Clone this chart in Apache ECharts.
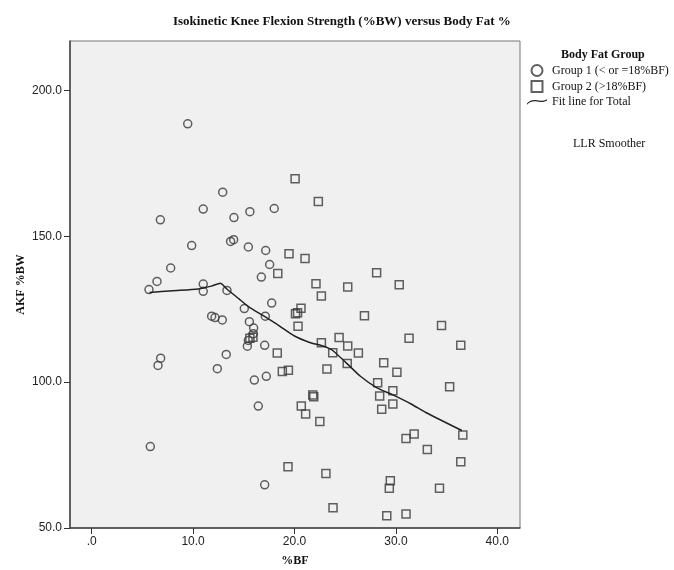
<!DOCTYPE html>
<html>
<head>
<meta charset="utf-8">
<script src="https://cdn.jsdelivr.net/npm/echarts@6.0.0/dist/echarts.min.js"></script>
<style>
  html, body { margin: 0; padding: 0; background: #fff; }
  #chart { width: 674px; height: 570px; }
</style>
</head>
<body>
<div id="chart"></div>
<script>
  // Group 1 (< or =18%BF) - circles
  const group1BF = [9.47, 12.92, 11.0, 14.03, 15.6, 18.0, 6.77, 9.86, 13.7, 14.0, 15.45, 17.16, 17.55, 16.73,
    7.79, 6.44, 5.65, 11.0, 11.0, 13.34, 17.75, 15.05, 17.12, 11.83, 12.16, 12.88, 15.55, 15.97, 15.94,
    15.45, 15.35, 17.06, 6.8, 6.54, 13.27, 12.39, 16.04, 17.22, 16.43, 5.78, 17.06];
  const group1AKF = [188.5, 165.1, 159.3, 156.4, 158.4, 159.5, 155.6, 146.8, 148.2, 148.8, 146.3, 145.1, 140.3, 136.0,
    139.1, 134.5, 131.7, 133.6, 131.1, 131.4, 127.1, 125.2, 122.6, 122.6, 122.1, 121.3, 120.7, 118.5, 116.6,
    114.3, 112.3, 112.6, 108.2, 105.7, 109.5, 104.6, 100.7, 102.0, 91.8, 77.9, 64.8];

  // Group 2 (>18%BF) - squares
  const group2BF = [20.06, 22.35, 19.46, 21.04, 18.35, 28.1, 22.12, 25.25, 30.33, 22.65, 20.64, 20.1, 20.3, 26.9,
    20.35, 34.5, 31.3, 24.4, 22.65, 25.25, 36.4, 23.77, 26.3, 18.3, 25.2, 28.8, 18.8, 19.4, 23.2, 30.1,
    28.2, 35.3, 29.7, 28.4, 29.7, 28.6, 21.8, 21.9, 20.67, 21.1, 22.5, 31.8, 31.0, 36.6, 33.1, 36.4,
    19.36, 23.1, 29.45, 29.35, 34.3, 23.8, 29.1, 31.0, 15.6, 15.9];
  const group2AKF = [169.7, 161.9, 144.0, 142.4, 137.2, 137.5, 133.7, 132.6, 133.4, 129.5, 125.3, 123.4, 123.8, 122.7,
    119.1, 119.4, 115.0, 115.3, 113.5, 112.4, 112.6, 110.1, 110.0, 110.0, 106.4, 106.6, 103.6, 104.1, 104.5, 103.4,
    99.8, 98.4, 97.0, 95.2, 92.5, 90.7, 95.6, 95.0, 91.8, 89.1, 86.5, 82.2, 80.7, 81.9, 76.9, 72.7,
    71.0, 68.7, 66.2, 63.6, 63.6, 56.9, 54.2, 54.8, 115.0, 115.4];

  // LLR smoother fit line for total
  const fitBF = [5.7, 8.0, 10.5, 11.8, 12.7, 13.3, 14.5, 15.5, 17.0, 18.5, 20.0, 21.5, 22.8, 23.7, 25.1, 26.5,
    28.1, 29.7, 31.5, 33.0, 36.5];
  const fitAKF = [130.7, 131.3, 131.9, 132.9, 133.9, 132.0, 128.6, 125.8, 122.6, 119.3, 115.8, 113.6, 112.4, 111.0,
    106.6, 102.0, 98.1, 95.6, 92.5, 89.5, 83.4];

  const xTicks = [0, 10, 20, 30, 40];
  const yTicks = [50, 100, 150, 200];

  const zip = (xs, ys) => xs.map((x, i) => [x, ys[i]]);
  const serif = 'Liberation Serif';
  const markerStyle = { color: 'rgba(0,0,0,0)', borderColor: '#3a3a3a', borderWidth: 1.5 };

  // legend icons (square kept square, fit line as a small curve)
  const squareIcon = 'path://M0,0H10V10H0Z';
  const curveIcon = 'path://M0,6.5C4,2.5 8,1.8 12,2.8C16,3.8 20,3.6 24,1.6L24,3.1C20,5.1 16,5.3 12,4.3C8,3.3 4,4 0,8Z';

  const option = {
    animation: false,
    backgroundColor: '#ffffff',
    title: [
      {
        text: 'Isokinetic Knee Flexion Strength (%BW) versus Body Fat %',
        left: 168, top: 10,
        textStyle: { fontFamily: serif, fontSize: 13, fontWeight: 'bold', color: '#111' }
      },
      {
        text: 'Body Fat Group',
        left: 556, top: 44,
        textStyle: { fontFamily: serif, fontSize: 12, fontWeight: 'bold', color: '#111' }
      },
      {
        text: 'LLR Smoother',
        left: 568, top: 133,
        textStyle: { fontFamily: serif, fontSize: 12, fontWeight: 'normal', color: '#111' }
      }
    ],
    legend: {
      orient: 'vertical',
      left: 522, top: 59,
      itemWidth: 20, itemHeight: 11, itemGap: 3,
      symbolKeepAspect: true,
      textStyle: { fontFamily: serif, fontSize: 12, color: '#111' },
      data: [
        { name: 'Group 1 (< or =18%BF)', icon: 'circle' },
        { name: 'Group 2 (>18%BF)', icon: squareIcon },
        { name: 'Fit line for Total', icon: curveIcon, itemStyle: { color: '#222', borderWidth: 0 } }
      ]
    },
    grid: {
      left: 70, right: 154, top: 41, bottom: 42,
      outerBoundsMode: 'none',
      show: true, backgroundColor: '#f0f0f0', borderColor: '#777', borderWidth: 1
    },
    xAxis: {
      type: 'value', min: -2.14, max: 42.24,
      name: '%BF', nameLocation: 'middle', nameGap: 27, nameMoveOverlap: false,
      nameTextStyle: { fontFamily: serif, fontSize: 12, fontWeight: 'bold', color: '#111' },
      axisLine: { onZero: false, lineStyle: { color: '#444', width: 1.5 } },
      axisTick: { show: true, length: 6, customValues: xTicks, lineStyle: { color: '#333' } },
      axisLabel: {
        customValues: xTicks, margin: 8, fontFamily: 'Liberation Sans', fontSize: 12, color: '#222',
        formatter: v => (v === 0 ? '.0' : v.toFixed(1))
      },
      splitLine: { show: false }
    },
    yAxis: {
      type: 'value', min: 50, max: 216.9,
      name: 'AKF %BW', nameLocation: 'middle', nameGap: 43, nameRotate: 90, nameMoveOverlap: false,
      nameTextStyle: { fontFamily: serif, fontSize: 12, fontWeight: 'bold', color: '#111' },
      axisLine: { show: true, onZero: false, lineStyle: { color: '#444', width: 1.5 } },
      axisTick: { show: true, length: 6, customValues: yTicks, lineStyle: { color: '#333' } },
      axisLabel: {
        customValues: yTicks, margin: 8, fontFamily: 'Liberation Sans', fontSize: 12, color: '#222',
        formatter: v => v.toFixed(1)
      },
      splitLine: { show: false }
    },
    series: [
      {
        name: 'Group 1 (< or =18%BF)',
        type: 'scatter', symbol: 'circle', symbolSize: 8,
        itemStyle: markerStyle,
        data: zip(group1BF, group1AKF)
      },
      {
        name: 'Group 2 (>18%BF)',
        type: 'scatter', symbol: 'rect', symbolSize: 8,
        itemStyle: markerStyle,
        data: zip(group2BF, group2AKF)
      },
      {
        name: 'Fit line for Total',
        type: 'line', symbol: 'none', smooth: 0.2,
        lineStyle: { color: '#222', width: 1.5 },
        itemStyle: { color: '#222' },
        data: zip(fitBF, fitAKF),
        z: 3
      }
    ]
  };

  const chartObj = echarts.init(document.getElementById('chart'));
  chartObj.setOption(option);
</script>
</body>
</html>
